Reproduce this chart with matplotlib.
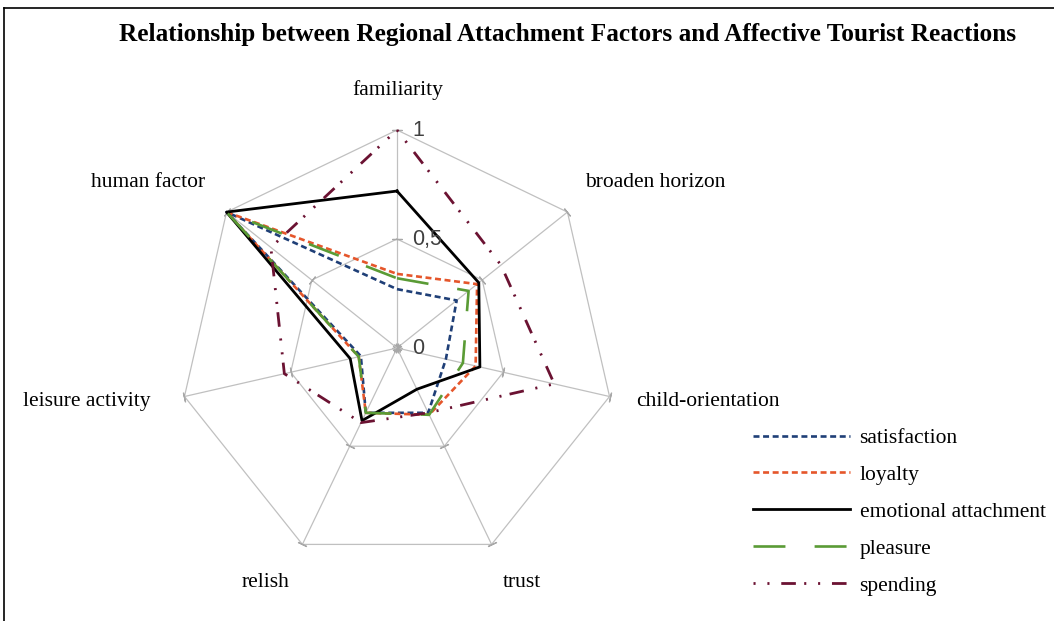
import numpy as np
import matplotlib
matplotlib.use("Agg")
import matplotlib.pyplot as plt
from matplotlib.lines import Line2D

plt.rcParams['font.family'] = ['Liberation Serif', 'DejaVu Serif']
plt.rcParams['lines.scale_dashes'] = False

# data
categories = ['familiarity', 'broaden horizon', 'child-orientation', 'trust',
              'relish', 'leisure activity', 'human factor']
satisfaction = [0.27, 0.35, 0.23, 0.33, 0.33, 0.17, 1.0]
loyalty = [0.34, 0.47, 0.37, 0.34, 0.33, 0.18, 1.0]
emotional = [0.72, 0.48, 0.39, 0.21, 0.37, 0.22, 1.0]
pleasure = [0.32, 0.42, 0.31, 0.34, 0.33, 0.18, 1.0]
spending = [1.0, 0.61, 0.74, 0.33, 0.38, 0.53, 0.74]
tick_vals = [0, 0.5, 1]
tick_labels = ['0', '0,5', '1']

W, H = 1054, 621
fig = plt.figure(figsize=(W / 100, H / 100), dpi=100)
cx, cy, R = 397, 348, 218
ax = fig.add_axes([(cx - R) / W, 1 - (cy + R) / H, 2 * R / W, 2 * R / H],
                  projection='polar')
ax.set_theta_offset(np.pi / 2)
ax.set_theta_direction(-1)
ax.set_ylim(0, 1)
ax.axis('off')

n = len(categories)
ang = np.linspace(0, 2 * np.pi, n, endpoint=False)
ang_c = np.append(ang, ang[0])

grid_col = '#C0C0C0'
for v in tick_vals[1:]:
    ax.plot(ang_c, [v] * (n + 1), color=grid_col, lw=0.9, clip_on=False, zorder=1)
for a in ang:
    ax.plot([a, a], [0, 1], color=grid_col, lw=0.9, clip_on=False, zorder=1)
    rot = 90 - np.degrees(a)
    ax.plot([a] * len(tick_vals), tick_vals, ls='none', marker=(2, 2, rot),
            ms=7, mew=0.9, color='#A8A8A8', clip_on=False, zorder=1)

series = [
    ('satisfaction', satisfaction, '#1F3F77', (0, (4.3, 2.6)), 1.9),
    ('loyalty', loyalty, '#E5562B', (0, (4.3, 2.6)), 1.9),
    ('emotional attachment', emotional, '#000000', '-', 2.0),
    ('pleasure', pleasure, '#5A9B35', (0, (23, 21)), 1.9),
    ('spending', spending, '#6B1232', (0, (1.5, 8.5, 1.5, 8.5, 10.5, 6)), 2.0),
]
handles = []
for name, vals, col, ls, lw in series:
    ln, = ax.plot(ang_c, list(vals) + [vals[0]], color=col, ls=ls, lw=lw,
                  clip_on=False, zorder=3, label=name)
    handles.append(ln)

# category labels
offsets = [(1, 40, 'center'), (18, 30, 'left'), (27, -5, 'left'),
           (30, -38, 'center'), (-37, -38, 'center'), (-34, -5, 'right'),
           (-21, 30, 'right')]
for a, lab, (ox, oy, ha) in zip(ang, categories, offsets):
    ax.annotate(lab, xy=(a, 1), xytext=(ox, oy), textcoords='offset pixels',
                ha=ha, va='center', fontsize=15.5, color='black',
                annotation_clip=False)

# value axis labels
for v, t in zip(tick_vals, tick_labels):
    ax.annotate(t, xy=(0, v), xytext=(15, 0), textcoords='offset pixels',
                ha='left', va='center', fontsize=15.5, color='#404040',
                family='Liberation Sans', annotation_clip=False)

fig.text(568 / W, 1 - 34 / H,
         'Relationship between Regional Attachment Factors and Affective Tourist Reactions',
         ha='center', va='center', fontsize=18.2, fontweight='bold')

fig.legend(handles=handles, loc='upper left', bbox_to_anchor=(753 / W, 1 - 428 / H),
           frameon=False, fontsize=15.5, handlelength=4.5, handletextpad=0.45,
           labelspacing=0.78, borderpad=0, borderaxespad=0)

# frame lines at top and left
fig.add_artist(Line2D([4 / W, 4 / W], [0, 1 - 8 / H], transform=fig.transFigure,
                      color='black', lw=1.2))
fig.add_artist(Line2D([4 / W, 1], [1 - 8 / H, 1 - 8 / H], transform=fig.transFigure,
                      color='black', lw=1.2))

fig.savefig('out.png', dpi=100)
